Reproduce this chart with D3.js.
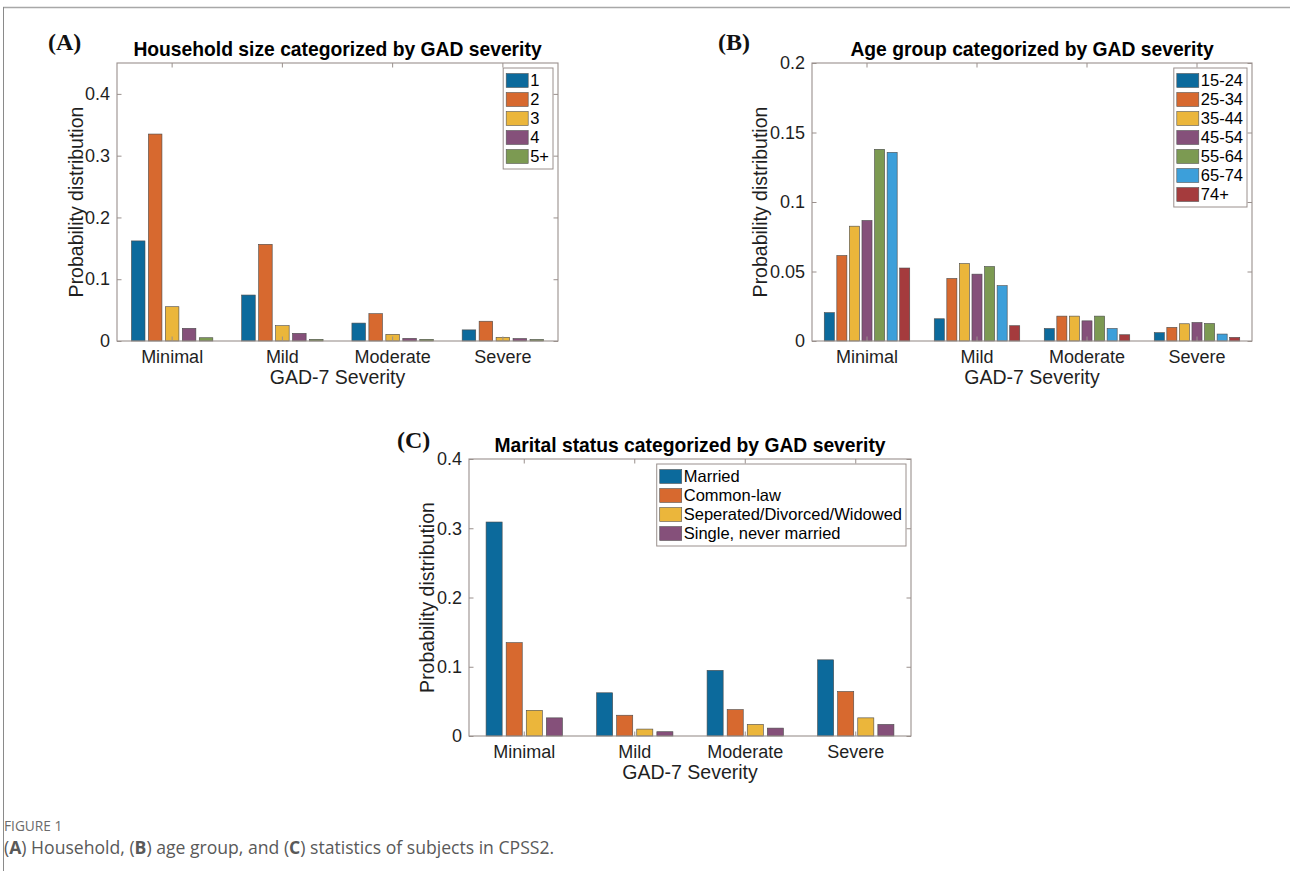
<!DOCTYPE html>
<html>
<head>
<meta charset="utf-8">
<script src="https://cdn.jsdelivr.net/npm/d3@7"></script>
<style>
  html, body { margin: 0; padding: 0; background: #fff; }
  svg { display: block; }
</style>
</head>
<body>
<svg id="fig" width="1290" height="871"></svg>
<script>
// ---------- DATA ----------
const severityCategories = ["Minimal", "Mild", "Moderate", "Severe"];

// (A) Household size
const householdSeries = ["1", "2", "3", "4", "5+"];
const householdValues = [
  [0.162, 0.0744, 0.029, 0.018],   // 1
  [0.335, 0.1565, 0.0442, 0.032],  // 2
  [0.0555, 0.0248, 0.0108, 0.006], // 3
  [0.0205, 0.0124, 0.0043, 0.004], // 4
  [0.0053, 0.0027, 0.0027, 0.0025] // 5+
];
const householdTicks = [0, 0.1, 0.2, 0.3, 0.4];
const householdTickLabels = ["0", "0.1", "0.2", "0.3", "0.4"];

// (B) Age group
const ageSeries = ["15-24", "25-34", "35-44", "45-54", "55-64", "65-74", "74+"];
const ageValues = [
  [0.0204, 0.016, 0.009, 0.006],    // 15-24
  [0.0615, 0.045, 0.0179, 0.0098],  // 25-34
  [0.0826, 0.0557, 0.0179, 0.0124], // 35-44
  [0.0867, 0.0481, 0.0145, 0.0133], // 45-54
  [0.1379, 0.0536, 0.0179, 0.0126], // 55-64
  [0.1357, 0.0398, 0.009, 0.005],   // 65-74
  [0.0525, 0.011, 0.0045, 0.0026]   // 74+
];
const ageTicks = [0, 0.05, 0.1, 0.15, 0.2];
const ageTickLabels = ["0", "0.05", "0.1", "0.15", "0.2"];

// (C) Marital status
const maritalSeries = ["Married", "Common-law", "Seperated/Divorced/Widowed", "Single, never married"];
const maritalValues = [
  [0.309, 0.0624, 0.0948, 0.110],   // Married
  [0.1348, 0.030, 0.0381, 0.0643],  // Common-law
  [0.0371, 0.010, 0.0167, 0.0262],  // Separated/Divorced/Widowed
  [0.0262, 0.0062, 0.0114, 0.0167]  // Single
];
const maritalTicks = [0, 0.1, 0.2, 0.3, 0.4];
const maritalTickLabels = ["0", "0.1", "0.2", "0.3", "0.4"];

const seriesColors = ["#0C6A9C", "#D7692F", "#EBB63B", "#85507A", "#7C9A52", "#3C9FDA", "#A53B3D"];

// ---------- DRAWING ----------
const svg = d3.select("#fig");
const SANS = "'Liberation Sans', Arial, Helvetica, sans-serif";
const SERIF = "'Liberation Serif', 'Times New Roman', serif";
const AXIS_COLOR = "#9a908d";
const TEXT_COLOR = "#1f1f1f";

// page frame
svg.append("line").attr("x1", 3).attr("x2", 1290).attr("y1", 7.5).attr("y2", 7.5)
  .attr("stroke", "#a8a8a8").attr("stroke-width", 1.5);
svg.append("line").attr("x1", 3.5).attr("x2", 3.5).attr("y1", 7).attr("y2", 871)
  .attr("stroke", "#8a8a8a").attr("stroke-width", 1);

function drawPanel(cfg) {
  const g = svg.append("g");
  const x = d3.scaleBand().domain(severityCategories).range([cfg.left, cfg.right]).paddingInner(0).paddingOuter(0);
  const y = d3.scaleLinear().domain([0, cfg.ymax]).range([cfg.bottom, cfg.top]);
  const n = cfg.series.length;
  const groupW = Math.min(0.8, n / (n + 1.5)) * x.bandwidth();
  const xs = d3.scaleBand().domain(d3.range(n)).range([-groupW / 2, groupW / 2]).paddingInner(0.2).paddingOuter(0.1);

  // bars
  cfg.values.forEach((vals, si) => {
    g.append("g").selectAll("rect").data(vals).join("rect")
      .attr("x", (d, ci) => x(severityCategories[ci]) + x.bandwidth() / 2 + xs(si))
      .attr("width", xs.bandwidth())
      .attr("y", d => y(d))
      .attr("height", d => y(0) - y(d))
      .attr("fill", seriesColors[si])
      .attr("stroke", "#4a4a4a")
      .attr("stroke-width", 0.6);
  });

  // axes
  const tick = 4.5;
  const left = g.append("g").attr("transform", `translate(${cfg.left},0)`)
    .call(d3.axisLeft(y).tickValues(cfg.ticks).tickFormat((d, i) => cfg.tickLabels[i]).tickSizeInner(-tick).tickSizeOuter(0).tickPadding(7));
  const right = g.append("g").attr("transform", `translate(${cfg.right},0)`)
    .call(d3.axisRight(y).tickValues(cfg.ticks).tickFormat("").tickSizeInner(-tick).tickSizeOuter(0));
  const bottom = g.append("g").attr("transform", `translate(0,${cfg.bottom})`)
    .call(d3.axisBottom(x).tickSizeInner(-tick).tickSizeOuter(0).tickPadding(9));
  const top = g.append("g").attr("transform", `translate(0,${cfg.top})`)
    .call(d3.axisTop(x).tickFormat("").tickSizeInner(-tick).tickSizeOuter(0));
  [left, right, bottom, top].forEach(a => {
    a.select(".domain").remove();
    a.selectAll("line").attr("stroke", AXIS_COLOR).attr("stroke-width", 1);
    a.selectAll("text").attr("font-family", SANS).attr("font-size", "18px").attr("fill", TEXT_COLOR);
  });
  bottom.selectAll("text").attr("dy", "0").attr("y", 22);
  g.append("rect").attr("x", cfg.left).attr("y", cfg.top)
    .attr("width", cfg.right - cfg.left).attr("height", cfg.bottom - cfg.top)
    .attr("fill", "none").attr("stroke", AXIS_COLOR).attr("stroke-width", 1.1);

  // axis labels
  g.append("text").attr("x", (cfg.left + cfg.right) / 2).attr("y", cfg.bottom + 43)
    .attr("text-anchor", "middle").attr("font-family", SANS).attr("font-size", "19.5px")
    .attr("fill", TEXT_COLOR).text("GAD-7 Severity");
  g.append("text")
    .attr("transform", `translate(${cfg.ylabelX},${(cfg.top + cfg.bottom) / 2}) rotate(-90)`)
    .attr("text-anchor", "middle").attr("font-family", SANS).attr("font-size", "19.5px")
    .attr("fill", TEXT_COLOR).text("Probability distribution");

  // title
  g.append("text").attr("x", (cfg.left + cfg.right) / 2).attr("y", cfg.top - 7)
    .attr("text-anchor", "middle").attr("font-family", SANS).attr("font-weight", "bold")
    .attr("font-size", "19.3px").attr("fill", "#000").text(cfg.title);

  // panel letter
  g.append("text").attr("x", cfg.letterX).attr("y", cfg.letterY)
    .attr("font-family", SERIF).attr("font-size", "24px").attr("font-weight", "bold")
    .attr("fill", "#111").text(cfg.letter);

  // legend
  const lg = g.append("g");
  const rowH = 19;
  const items = lg.selectAll("g").data(cfg.series).join("g");
  const texts = items.append("text").attr("font-family", SANS).attr("font-size", "16.5px")
    .attr("fill", "#000").attr("dy", "0.35em").text(d => d);
  let maxW = 0;
  texts.each(function () { maxW = Math.max(maxW, this.getComputedTextLength()); });
  const boxW = 27 + maxW + 4;
  const boxH = cfg.series.length * rowH + 6;
  const bx = cfg.right - cfg.legendInset - boxW;
  const by = cfg.top + cfg.legendInset;
  lg.insert("rect", ":first-child").attr("x", bx).attr("y", by).attr("width", boxW).attr("height", boxH)
    .attr("fill", "#fff").attr("stroke", AXIS_COLOR).attr("stroke-width", 1);
  items.attr("transform", (d, i) => `translate(${bx},${by + 12.5 + i * rowH})`);
  items.insert("rect", "text").attr("x", 3).attr("y", -7).attr("width", 22).attr("height", 14)
    .attr("fill", (d, i) => seriesColors[i]).attr("stroke", "#555").attr("stroke-width", 0.6);
  texts.attr("x", 27);
}

drawPanel({
  left: 117, right: 558, top: 63, bottom: 341, ymax: 0.45,
  series: householdSeries, values: householdValues,
  ticks: householdTicks, tickLabels: householdTickLabels,
  title: "Household size categorized by GAD severity",
  letter: "(A)", letterX: 48, letterY: 50, ylabelX: 83, legendInset: 5
});
drawPanel({
  left: 812, right: 1252, top: 63, bottom: 341, ymax: 0.2,
  series: ageSeries, values: ageValues,
  ticks: ageTicks, tickLabels: ageTickLabels,
  title: "Age group categorized by GAD severity",
  letter: "(B)", letterX: 718, letterY: 50, ylabelX: 767, legendInset: 5
});
drawPanel({
  left: 469, right: 911, top: 459, bottom: 736, ymax: 0.4,
  series: maritalSeries, values: maritalValues,
  ticks: maritalTicks, tickLabels: maritalTickLabels,
  title: "Marital status categorized by GAD severity",
  letter: "(C)", letterX: 397, letterY: 448, ylabelX: 434, legendInset: 5
});

// caption
const CAP = "'Open Sans', 'Noto Sans', sans-serif";
svg.append("text").attr("x", 4).attr("y", 831).attr("font-family", CAP).attr("font-size", "13.7px")
  .attr("fill", "#6a6a6a").text("FIGURE 1");
const cap = svg.append("text").attr("x", 4).attr("y", 854).attr("font-family", CAP)
  .attr("font-size", "17.6px").attr("fill", "#595959");
const capParts = [["(", 400], ["A", 700], [") Household, (", 400], ["B", 700], [") age group, and (", 400], ["C", 700], [") statistics of subjects in CPSS2.", 400]];
capParts.forEach(([t, w]) => cap.append("tspan").attr("font-weight", w).text(t));
</script>
</body>
</html>
